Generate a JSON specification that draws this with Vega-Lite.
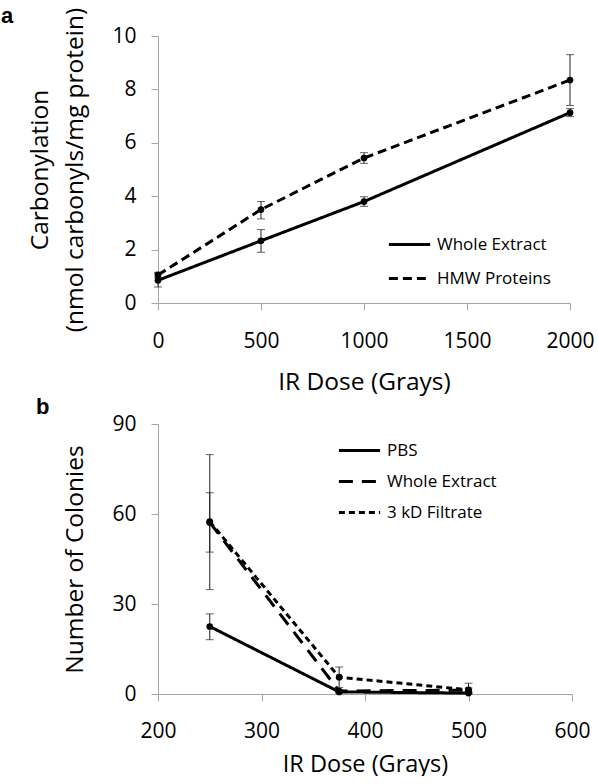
{
  "$schema": "https://vega.github.io/schema/vega-lite/v6.json",
  "padding": {"left": 0, "top": 5, "right": 0, "bottom": 0},
  "spacing": 2,
  "resolve": {"scale": {"strokeDash": "independent"}, "legend": {"strokeDash": "independent"}},
  "config": {
    "font": "Open Sans",
    "view": {"stroke": null},
    "axis": {
      "grid": false,
      "domainColor": "#a6a6a6",
      "tickColor": "#a6a6a6",
      "tickSize": 7,
      "labelFont": "Open Sans",
      "labelFontSize": 21,
      "labelColor": "#000",
      "labelPadding": 15,
      "labelOverlap": false,
      "labelFlush": false,
      "titleFont": "Open Sans",
      "titleFontSize": 24.5,
      "titleFontWeight": "normal",
      "titleColor": "#000"
    },
    "axisX": {"format": "d"},
    "axisY": {"titlePadding": 24, "titleLineHeight": 35},
    "legend": {
      "orient": "none",
      "symbolType": "stroke",
      "symbolSize": 1700,
      "symbolStrokeWidth": 3,
      "symbolStrokeColor": "#000",
      "labelFont": "Open Sans",
      "labelFontSize": 17,
      "labelColor": "#000",
      "labelOffset": 5,
      "rowPadding": 3,
      "title": null
    },
    "title": {
      "anchor": "start",
      "frame": "bounds",
      "font": "Liberation Sans",
      "fontSize": 22,
      "fontWeight": "bold",
      "color": "#000",
      "offset": 2,
      "dx": -27
    }
  },
  "datasets": {
    "a": [
      {"series": "Whole Extract", "dose": 0, "value": 0.85, "lo": 0.6, "hi": 1.1},
      {"series": "Whole Extract", "dose": 500, "value": 2.33, "lo": 1.9, "hi": 2.75},
      {"series": "Whole Extract", "dose": 1000, "value": 3.8, "lo": 3.62, "hi": 3.98},
      {"series": "Whole Extract", "dose": 2000, "value": 7.13, "lo": 6.98, "hi": 7.28},
      {"series": "HMW Proteins", "dose": 0, "value": 1.05, "lo": 0.95, "hi": 1.15},
      {"series": "HMW Proteins", "dose": 500, "value": 3.5, "lo": 3.15, "hi": 3.8},
      {"series": "HMW Proteins", "dose": 1000, "value": 5.43, "lo": 5.23, "hi": 5.63},
      {"series": "HMW Proteins", "dose": 2000, "value": 8.35, "lo": 7.4, "hi": 9.3}
    ],
    "b": [
      {"series": "PBS", "dose": 250, "value": 22.5, "lo": 18.1, "hi": 26.7},
      {"series": "PBS", "dose": 375, "value": 0.7, "lo": 0.3, "hi": 1.1},
      {"series": "PBS", "dose": 500, "value": 0.3, "lo": 0.1, "hi": 0.5},
      {"series": "Whole Extract", "dose": 250, "value": 57.2, "lo": 47.3, "hi": 67.1},
      {"series": "Whole Extract", "dose": 375, "value": 1.0, "lo": 0.5, "hi": 1.5},
      {"series": "Whole Extract", "dose": 500, "value": 1.3, "lo": 0.8, "hi": 2.0},
      {"series": "3 kD Filtrate", "dose": 250, "value": 57.5, "lo": 34.8, "hi": 79.8},
      {"series": "3 kD Filtrate", "dose": 375, "value": 5.6, "lo": 2.2, "hi": 9.0},
      {"series": "3 kD Filtrate", "dose": 500, "value": 1.4, "lo": 0.0, "hi": 3.6}
    ]
  },
  "vconcat": [
    {
      "width": 412,
      "height": 267,
      "title": {"text": "a", "offset": -21},
      "data": {"name": "a"},
      "layer": [
        {
          "mark": {"type": "line", "color": "#000", "strokeWidth": 3},
          "encoding": {
            "x": {"field": "dose", "type": "quantitative", "title": "IR Dose (Grays)", "scale": {"domain": [0, 2000]}, "axis": {"values": [0, 500, 1000, 1500, 2000], "labelPadding": 20, "titlePadding": 19}},
            "y": {"field": "value", "type": "quantitative", "title": ["Carbonylation", "(nmol carbonyls/mg protein)"], "scale": {"domain": [0, 10]}, "axis": {"values": [0, 2, 4, 6, 8, 10]}},
            "strokeDash": {"field": "series", "type": "nominal", "scale": {"domain": ["Whole Extract", "HMW Proteins"], "range": [[1, 0], [9, 5]]}, "legend": {"legendX": 229, "legendY": 186}}
          }
        },
        {
          "mark": {"type": "errorbar", "ticks": {"size": 8, "thickness": 1, "color": "#222"}, "rule": {"strokeWidth": 1, "color": "#222"}},
          "encoding": {
            "x": {"field": "dose", "type": "quantitative", "title": "IR Dose (Grays)"},
            "y": {"field": "lo", "type": "quantitative", "title": ["Carbonylation", "(nmol carbonyls/mg protein)"]},
            "y2": {"field": "hi"}
          }
        },
        {
          "mark": {"type": "point", "filled": true, "color": "#000", "size": 45, "opacity": 1},
          "encoding": {
            "x": {"field": "dose", "type": "quantitative", "title": "IR Dose (Grays)"},
            "y": {"field": "value", "type": "quantitative", "title": ["Carbonylation", "(nmol carbonyls/mg protein)"]}
          }
        }
      ]
    },
    {
      "width": 414,
      "height": 270,
      "title": {"text": "b", "offset": -6},
      "data": {"name": "b"},
      "layer": [
        {
          "mark": {"type": "line", "color": "#000", "strokeWidth": 3},
          "encoding": {
            "x": {"field": "dose", "type": "quantitative", "title": "IR Dose (Grays)", "scale": {"domain": [200, 600]}, "axis": {"values": [200, 300, 400, 500, 600], "labelPadding": 19, "titlePadding": 11, "titleFontSize": 23.5}},
            "y": {"field": "value", "type": "quantitative", "title": "Number of Colonies", "scale": {"domain": [0, 90]}, "axis": {"values": [0, 30, 60, 90]}},
            "strokeDash": {"field": "series", "type": "nominal", "scale": {"domain": ["PBS", "Whole Extract", "3 kD Filtrate"], "range": [[1, 0], [14, 9], [6, 4]]}, "legend": {"legendX": 179, "legendY": 4, "rowPadding": -2}}
          }
        },
        {
          "mark": {"type": "errorbar", "ticks": {"size": 8, "thickness": 1, "color": "#222"}, "rule": {"strokeWidth": 1, "color": "#222"}},
          "encoding": {
            "x": {"field": "dose", "type": "quantitative", "title": "IR Dose (Grays)"},
            "y": {"field": "lo", "type": "quantitative", "title": "Number of Colonies"},
            "y2": {"field": "hi"}
          }
        },
        {
          "mark": {"type": "point", "filled": true, "color": "#000", "size": 45, "opacity": 1},
          "encoding": {
            "x": {"field": "dose", "type": "quantitative", "title": "IR Dose (Grays)"},
            "y": {"field": "value", "type": "quantitative", "title": "Number of Colonies"}
          }
        }
      ]
    }
  ]
}
